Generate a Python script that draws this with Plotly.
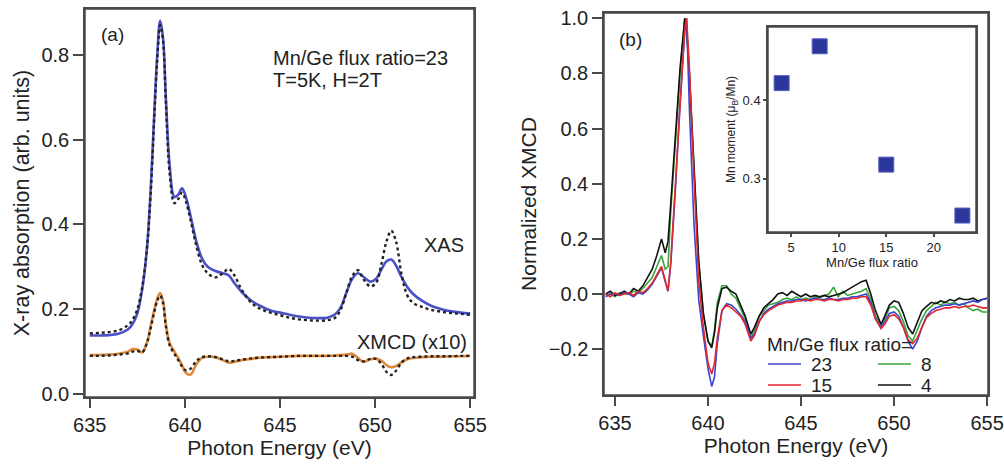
import plotly.graph_objects as go

# ---------------- Panel (a) data ----------------
energy_a = [635.0, 635.5, 636.0, 636.5, 637.0, 637.25, 637.5, 637.75, 638.0, 638.2,
            638.4, 638.55, 638.7, 638.85, 639.0, 639.2, 639.45, 639.65, 639.85, 640.05,
            640.3, 640.6, 640.9, 641.2, 641.6, 642.0, 642.3, 642.6, 643.0, 643.5,
            644.0, 644.5, 645.0, 645.5, 646.0, 646.5, 647.0, 647.5, 647.9, 648.2,
            648.5, 648.8, 649.1, 649.4, 649.75, 650.05, 650.35, 650.6, 650.85, 651.1,
            651.4, 651.7, 652.0, 652.5, 653.0, 653.5, 654.0, 654.5, 655.0]

xas_exp = [0.138, 0.138, 0.139, 0.142, 0.152, 0.165, 0.19, 0.245, 0.34, 0.48,
           0.67, 0.8, 0.88, 0.84, 0.7, 0.54, 0.465, 0.47, 0.485, 0.465,
           0.42, 0.36, 0.32, 0.30, 0.29, 0.285, 0.28, 0.262, 0.24, 0.22,
           0.207, 0.197, 0.192, 0.187, 0.183, 0.18, 0.179, 0.18, 0.188, 0.205,
           0.24, 0.272, 0.285, 0.276, 0.265, 0.272, 0.295, 0.313, 0.317, 0.303,
           0.275, 0.252, 0.236, 0.219, 0.207, 0.2, 0.195, 0.192, 0.19]

xas_calc = [0.143, 0.144, 0.146, 0.15, 0.162, 0.175, 0.2, 0.25, 0.34, 0.47,
            0.66, 0.79, 0.87, 0.835, 0.69, 0.52, 0.45, 0.46, 0.475, 0.455,
            0.41, 0.35, 0.305, 0.285, 0.275, 0.285, 0.295, 0.28, 0.245, 0.215,
            0.2, 0.192, 0.186, 0.18, 0.176, 0.174, 0.173, 0.174, 0.18, 0.2,
            0.24, 0.278, 0.292, 0.27, 0.254, 0.262, 0.31, 0.36, 0.385, 0.36,
            0.28, 0.232, 0.215, 0.205, 0.198, 0.194, 0.191, 0.189, 0.187]

xmcd_exp = [0.092, 0.092, 0.093, 0.095, 0.1, 0.106, 0.105, 0.098, 0.12, 0.16,
            0.2, 0.225, 0.238, 0.22, 0.165, 0.12, 0.1, 0.085, 0.068, 0.05,
            0.046, 0.07, 0.085, 0.088, 0.087, 0.08, 0.074, 0.076, 0.08, 0.083,
            0.086, 0.087, 0.088, 0.089, 0.09, 0.09, 0.09, 0.09, 0.091, 0.092,
            0.093, 0.095, 0.085, 0.076, 0.082, 0.083, 0.078, 0.068, 0.063, 0.066,
            0.075, 0.082, 0.085, 0.087, 0.088, 0.088, 0.089, 0.089, 0.09]

xmcd_calc = [0.09, 0.09, 0.091, 0.093, 0.096, 0.1, 0.102, 0.098, 0.12, 0.155,
             0.195, 0.22, 0.232, 0.215, 0.16, 0.115, 0.095, 0.08, 0.065, 0.056,
             0.06, 0.078, 0.087, 0.089, 0.087, 0.082, 0.077, 0.078, 0.081, 0.084,
             0.086, 0.087, 0.088, 0.089, 0.09, 0.09, 0.09, 0.09, 0.09, 0.09,
             0.09, 0.088, 0.08, 0.077, 0.083, 0.083, 0.07, 0.052, 0.045, 0.055,
             0.075, 0.084, 0.087, 0.088, 0.089, 0.089, 0.089, 0.09, 0.09]

# ---------------- Panel (b) data ----------------
energy_b = [634.5, 634.75, 635.0, 635.25, 635.5, 635.75, 636.0, 636.25, 636.5, 636.75,
            637.0, 637.25, 637.5, 637.7, 637.85, 638.0, 638.25, 638.5, 638.75, 638.85,
            639.0, 639.25, 639.5, 639.75, 640.0, 640.2, 640.35, 640.5, 640.75, 641.0,
            641.25, 641.5, 641.75, 642.0, 642.3, 642.5, 642.75, 643.0, 643.25, 643.5,
            643.75, 644.0, 644.25, 644.5, 644.75, 645.0, 645.25, 645.5, 645.75, 646.0,
            646.25, 646.5, 646.75, 647.0, 647.25, 647.5, 647.75, 648.0, 648.25, 648.5,
            648.75, 649.0, 649.3, 649.5, 649.75, 650.0, 650.25, 650.5, 650.75, 651.0,
            651.25, 651.5, 651.75, 652.0, 652.25, 652.5, 652.75, 653.0, 653.25, 653.5,
            653.75, 654.0, 654.25, 654.5, 654.75, 655.0]

xmcd_23 = [-0.01, 0.0, 0.0, -0.005, 0.005, 0.0, -0.01, 0.005, 0.0, 0.015,
           0.035, 0.065, 0.095, 0.045, 0.01, 0.11, 0.38, 0.7, 0.95, 1.0,
           0.67, 0.25, -0.02, -0.15, -0.27, -0.335, -0.3, -0.18, -0.06, -0.035,
           -0.04, -0.055, -0.075, -0.1, -0.16, -0.145, -0.1, -0.07, -0.055, -0.045,
           -0.035, -0.03, -0.025, -0.025, -0.02, -0.02, -0.025, -0.02, -0.015, -0.02,
           -0.02, -0.015, -0.02, -0.02, -0.015, -0.015, -0.01, -0.01, -0.005, 0.0,
           -0.03, -0.09, -0.12, -0.1, -0.07, -0.065, -0.08, -0.12, -0.17, -0.2,
           -0.17, -0.12, -0.08, -0.06, -0.05, -0.045, -0.04, -0.04, -0.035, -0.04,
           -0.035, -0.03, -0.025, -0.03, -0.02, -0.015]

xmcd_15 = [0.0, -0.01, 0.005, -0.005, 0.0, 0.005, -0.005, 0.01, 0.005, 0.02,
           0.04, 0.07, 0.1, 0.05, 0.01, 0.12, 0.4, 0.72, 0.96, 1.0,
           0.82, 0.42, 0.05, -0.12, -0.25, -0.29, -0.25, -0.16, -0.06, -0.04,
           -0.05, -0.065, -0.08, -0.11, -0.17, -0.15, -0.1, -0.075, -0.06, -0.05,
           -0.04, -0.035, -0.03, -0.03, -0.025, -0.025, -0.02, -0.025, -0.02, -0.02,
           -0.025, -0.02, -0.02, -0.025, -0.02, -0.02, -0.015, -0.015, -0.01, -0.01,
           -0.04, -0.09, -0.125, -0.11, -0.08, -0.075, -0.09, -0.12, -0.165, -0.18,
           -0.16, -0.12, -0.085, -0.07, -0.06, -0.055, -0.05, -0.05, -0.045, -0.05,
           -0.045, -0.045, -0.04, -0.045, -0.05, -0.05]

xmcd_8 = [-0.005, 0.0, -0.01, 0.005, 0.0, 0.0, 0.01, 0.005, 0.02, 0.04,
          0.06, 0.1, 0.14, 0.09, 0.1, 0.3, 0.55, 0.8, 1.0, 0.97,
          0.78, 0.45, 0.12, -0.07, -0.17, -0.19, -0.13, -0.03, 0.03, 0.03,
          0.0, -0.015, -0.05, -0.09, -0.16, -0.13, -0.08, -0.06, -0.04, -0.035,
          -0.03, -0.02, -0.015, -0.02, -0.01, -0.02, -0.015, -0.02, -0.01, -0.015,
          -0.005, 0.0, 0.025, -0.01, 0.01, -0.005, 0.0, 0.005, 0.01, 0.02,
          -0.02, -0.08, -0.11, -0.09, -0.05, -0.045, -0.06, -0.1, -0.15, -0.17,
          -0.13, -0.09, -0.06, -0.045, -0.03, -0.04, -0.03, -0.035, -0.03, -0.04,
          -0.035, -0.05, -0.06, -0.055, -0.065, -0.065]

xmcd_4 = [0.0, 0.01, -0.005, 0.0, 0.01, 0.0, 0.02, 0.01, 0.03, 0.06,
          0.09, 0.14, 0.2, 0.15, 0.19, 0.33, 0.58, 0.82, 1.0, 0.96,
          0.8, 0.47, 0.12, -0.07, -0.17, -0.195, -0.14, -0.05, 0.02, 0.025,
          0.01, 0.0, -0.04, -0.08, -0.145, -0.12, -0.08, -0.05, -0.035, -0.02,
          0.0, 0.005, -0.005, 0.01, 0.0, -0.01, 0.0, -0.01, -0.005, -0.01,
          -0.005, -0.01, -0.005, 0.0, 0.005, 0.015, 0.025, 0.035, 0.045, 0.05,
          0.0, -0.06, -0.11, -0.08, -0.04, -0.025, -0.03, -0.07, -0.12, -0.145,
          -0.1, -0.06, -0.045, -0.03, -0.035, -0.025, -0.03, -0.02, -0.025, -0.015,
          -0.02, -0.02, -0.015, -0.025, -0.02, -0.015]

series_b_names = ["23", "15", "8", "4"]
series_b_colors = ["#3a47d0", "#e3262e", "#3aa53a", "#111111"]

# ---------------- Inset data ----------------
flux_ratio = [4, 8, 15, 23]
mn_moment = [0.422, 0.469, 0.318, 0.253]

FONT = "Liberation Sans"
TXT = "#222222"
FRAME = "#4a4a4a"

fig = go.Figure()

# Panel (a)
fig.add_trace(go.Scatter(x=energy_a, y=xas_exp, mode="lines", line=dict(color="#4b50c4", width=2.6, shape="spline"),
                         xaxis="x", yaxis="y", showlegend=False))
fig.add_trace(go.Scatter(x=energy_a, y=xas_calc, mode="lines", line=dict(color="#222222", width=2.4, dash="dot", shape="spline"),
                         xaxis="x", yaxis="y", showlegend=False))
fig.add_trace(go.Scatter(x=energy_a, y=xmcd_exp, mode="lines", line=dict(color="#e0893a", width=2.6, shape="spline"),
                         xaxis="x", yaxis="y", showlegend=False))
fig.add_trace(go.Scatter(x=energy_a, y=xmcd_calc, mode="lines", line=dict(color="#222222", width=2.4, dash="dot", shape="spline"),
                         xaxis="x", yaxis="y", showlegend=False))

# Panel (b)
vals_b = [xmcd_23, xmcd_15, xmcd_8, xmcd_4]
draw_order = [2, 3, 0, 1]
for i in draw_order:
    fig.add_trace(go.Scatter(x=energy_b, y=vals_b[i], mode="lines", name=series_b_names[i],
                             line=dict(color=series_b_colors[i], width=1.6),
                             xaxis="x2", yaxis="y2", showlegend=False))

# Inset
fig.add_trace(go.Scatter(x=flux_ratio, y=mn_moment, mode="markers",
                         marker=dict(symbol="square", size=15, color="#2b379a",
                                     line=dict(color="#5560c0", width=1)),
                         xaxis="x3", yaxis="y3", showlegend=False))

W, H = 1004, 466
def px_x(p):
    return p / W
def px_y(p):
    return 1 - p / H

def axis_style(size, ticklen):
    return dict(showline=True, linecolor=FRAME, linewidth=1.5, mirror=True, ticks="outside",
                ticklen=ticklen, tickwidth=1.5, tickcolor=FRAME, showgrid=False, zeroline=False,
                automargin=False, tickfont=dict(family=FONT, size=size, color=TXT))

main_x = axis_style(20, 9)
main_y = axis_style(20, 10)
inset_ax = axis_style(13, 3)

fig.update_layout(
    template="none",
    width=W, height=H, margin=dict(l=0, r=0, t=0, b=0, autoexpand=False),
    paper_bgcolor="white", plot_bgcolor="white",
    font=dict(family=FONT, color=TXT),
    xaxis=dict(main_x, domain=[px_x(85), px_x(474)], range=[634.75, 655.2],
               tickvals=[635, 640, 645, 650, 655],
               title=dict(text="Photon Energy (eV)", standoff=4, font=dict(family=FONT, size=21, color=TXT)),
               anchor="y"),
    yaxis=dict(main_y, domain=[px_y(397), px_y(9)], range=[-0.007, 0.908],
               tickvals=[0.0, 0.2, 0.4, 0.6, 0.8], tickformat=".1f",
               title=dict(text="X-ray absorption (arb. units)", standoff=6, font=dict(family=FONT, size=21.5, color=TXT)),
               anchor="x"),
    xaxis2=dict(main_x, domain=[px_x(604), px_x(988)], range=[634.41, 655.05],
                tickvals=[635, 640, 645, 650, 655],
                title=dict(text="Photon Energy (eV)", standoff=4, font=dict(family=FONT, size=21, color=TXT)),
                anchor="y2"),
    yaxis2=dict(main_y, domain=[px_y(395), px_y(13)], range=[-0.366, 1.019],
                tickvals=[-0.2, 0.0, 0.2, 0.4, 0.6, 0.8, 1.0], tickformat=".1f",
                title=dict(text="Normalized XMCD", standoff=6, font=dict(family=FONT, size=21, color=TXT)),
                anchor="x2"),
    xaxis3=dict(inset_ax, domain=[px_x(768), px_x(976)], range=[2.57, 24.43], tickvals=[5, 10, 15, 20],
                title=dict(text="Mn/Ge flux ratio", font=dict(family=FONT, size=13, color=TXT), standoff=2),
                anchor="y3"),
    yaxis3=dict(inset_ax, domain=[px_y(232), px_y(27)], range=[0.232, 0.4936], tickvals=[0.3, 0.4],
                tickformat=".1f",
                title=dict(text="Mn moment (μ<sub>B</sub>/Mn)", font=dict(family=FONT, size=12, color=TXT), standoff=4),
                anchor="x3"),
)

ann_font = dict(family=FONT, size=20, color=TXT)
leg_font = dict(family=FONT, size=19, color=TXT)
annotations = [
    dict(text="(a)", x=px_x(99), y=px_y(35), xanchor="left", yanchor="middle", font=dict(family=FONT, size=19, color=TXT)),
    dict(text="Mn/Ge flux ratio=23", x=px_x(271), y=px_y(58), xanchor="left", yanchor="middle", font=ann_font),
    dict(text="T=5K, H=2T", x=px_x(271), y=px_y(80), xanchor="left", yanchor="middle", font=ann_font),
    dict(text="XAS", x=px_x(466), y=px_y(245), xanchor="right", yanchor="middle", font=ann_font),
    dict(text="XMCD (x10)", x=px_x(469), y=px_y(342), xanchor="right", yanchor="middle", font=ann_font),
    dict(text="(b)", x=px_x(617), y=px_y(40), xanchor="left", yanchor="middle", font=dict(family=FONT, size=19, color=TXT)),
    dict(text="Mn/Ge flux ratio=", x=px_x(765), y=px_y(344), xanchor="left", yanchor="middle", font=leg_font),
]

shapes = []
# frames around each plotting area
for xr, yr in [("x", "y"), ("x2", "y2"), ("x3", "y3")]:
    shapes.append(dict(type="rect", xref=xr + " domain", yref=yr + " domain", x0=0, x1=1, y0=0, y1=1,
                       line=dict(color=FRAME, width=1.5), fillcolor="rgba(0,0,0,0)", layer="above"))

# manual legend for panel (b)
legend_layout = [("23", 0, 0), ("8", 1, 0), ("15", 0, 1), ("4", 1, 1)]
for name, col, row in legend_layout:
    idx = series_b_names.index(name)
    x0 = 768 + col * 110
    yc = 364 + row * 21
    shapes.append(dict(type="line", xref="paper", yref="paper", x0=px_x(x0), x1=px_x(x0 + 33),
                       y0=px_y(yc), y1=px_y(yc), line=dict(color=series_b_colors[idx], width=1.6)))
    annotations.append(dict(text=name, x=px_x(x0 + 41), y=px_y(yc), xanchor="left", yanchor="middle", font=leg_font))

for a in annotations:
    a.update(xref="paper", yref="paper", showarrow=False)

fig.update_layout(annotations=annotations, shapes=shapes)

fig.write_html("out.html", config={"displayModeBar": False},
               post_script="document.body.style.margin='0';document.body.style.overflow='hidden';")
